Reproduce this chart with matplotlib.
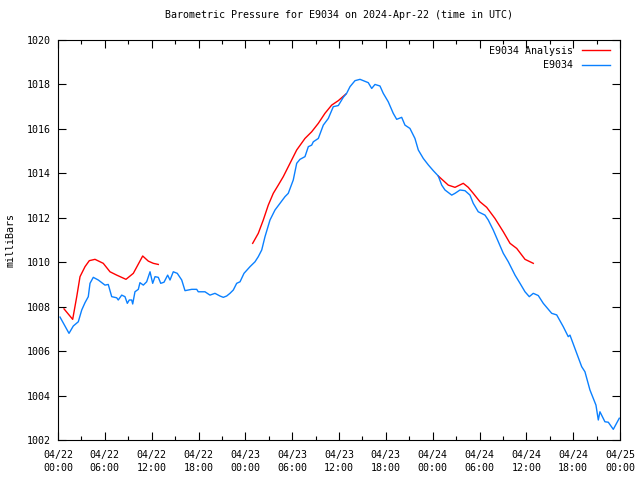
import numpy as np
import matplotlib
matplotlib.use('Agg')
from matplotlib import pyplot as plt

# hours since 2024-04-22 00:00 UTC
obs_hours = [0.26, 1.41, 1.96, 2.60, 3.04, 3.46, 3.88, 4.10, 4.52, 5.16, 6.02, 6.44, 6.88, 7.52, 7.72,
             8.16, 8.58, 8.88, 9.13, 9.44, 9.57, 9.86, 10.29, 10.50, 10.93, 11.36, 11.79, 12.13, 12.43,
             12.85, 13.16, 13.58, 14.05, 14.35, 14.77, 15.28, 15.85, 16.27, 16.69, 17.13, 17.77, 17.97,
             18.83, 19.47, 20.11, 20.75, 21.18, 21.61, 22.03, 22.46, 22.89, 23.32, 23.83, 24.60, 25.24,
             25.66, 26.10, 26.52, 27.16, 27.80, 28.44, 29.08, 29.50, 30.14, 30.58, 31.00, 31.64, 32.07,
             32.50, 32.71, 33.35, 33.99, 34.63, 35.27, 35.91, 36.55, 36.98, 37.41, 38.05, 38.69, 39.11,
             39.75, 40.19, 40.61, 41.25, 41.67, 42.31, 42.95, 43.39, 44.03, 44.45, 45.09, 45.73, 46.16,
             46.80, 47.44, 48.08, 48.72, 49.16, 49.58, 50.44, 50.86, 51.50, 52.14, 52.78, 53.20, 53.84,
             54.70, 55.12, 55.76, 56.41, 57.05, 57.69, 58.55, 59.19, 59.83, 60.38, 60.89, 61.53, 62.17,
             63.25, 63.89, 64.73, 65.37, 65.59, 66.23, 67.09, 67.51, 68.15, 68.92, 69.22, 69.43, 70.07,
             70.50, 71.14, 71.91]
obs_press = [1007.53, 1006.8, 1007.13, 1007.32, 1007.85, 1008.18, 1008.45, 1009.05, 1009.32, 1009.2,
             1008.97, 1009.0, 1008.45, 1008.4, 1008.3, 1008.52, 1008.45, 1008.15, 1008.3, 1008.3, 1008.12,
             1008.67, 1008.78, 1009.08, 1008.97, 1009.12, 1009.57, 1009.05, 1009.35, 1009.32, 1009.05,
             1009.1, 1009.42, 1009.2, 1009.57, 1009.5, 1009.2, 1008.72, 1008.75, 1008.78, 1008.78, 1008.67,
             1008.67, 1008.52, 1008.6, 1008.48, 1008.42, 1008.48, 1008.6, 1008.75, 1009.05, 1009.12, 1009.5,
             1009.8, 1010.02, 1010.25, 1010.55, 1011.15, 1011.9, 1012.35, 1012.65, 1012.95, 1013.1, 1013.7,
             1014.45, 1014.63, 1014.75, 1015.2, 1015.27, 1015.42, 1015.57, 1016.17, 1016.47, 1017.0,
             1017.05, 1017.42, 1017.6, 1017.9, 1018.17, 1018.23, 1018.17, 1018.08, 1017.82, 1018.0,
             1017.93, 1017.6, 1017.22, 1016.7, 1016.43, 1016.52, 1016.17, 1016.02, 1015.57, 1015.05,
             1014.67, 1014.38, 1014.12, 1013.88, 1013.47, 1013.25, 1013.02, 1013.1, 1013.25, 1013.22,
             1013.02, 1012.65, 1012.27, 1012.12, 1011.9, 1011.45, 1010.92, 1010.4, 1010.02, 1009.42,
             1009.05, 1008.67, 1008.45, 1008.6, 1008.5, 1008.15, 1007.7, 1007.63, 1007.1, 1006.65,
             1006.72, 1006.12, 1005.3, 1005.07, 1004.25, 1003.57, 1002.9, 1003.27, 1002.82, 1002.8,
             1002.48, 1002.98]

# analysis, NaN marks the gaps between runs
ana_hours = [0.77, 1.88, 2.40, 2.82, 3.46, 4.01, 4.74, 5.80, 6.66, 7.52, 8.71, 9.65, 10.85, 11.57, 12.21,
             12.85, 18.0,
             24.94, 25.66, 26.30, 26.94, 27.58, 28.22, 28.86, 29.72, 30.58, 31.64, 32.50, 33.35, 34.20,
             35.06, 35.91, 36.89, 42.0,
             48.72, 49.28, 50.00, 50.86, 51.92, 52.56, 53.20, 54.06, 54.92, 55.98, 57.05, 57.91, 58.77,
             59.83, 60.89]
ana_press = [1007.9, 1007.43, 1008.45, 1009.35, 1009.8, 1010.07, 1010.13, 1009.95, 1009.57, 1009.42,
             1009.23, 1009.5, 1010.28, 1010.05, 1009.95, 1009.9, np.nan,
             1010.85, 1011.3, 1011.9, 1012.57, 1013.1, 1013.47, 1013.85, 1014.45, 1015.05, 1015.57,
             1015.87, 1016.25, 1016.7, 1017.07, 1017.27, 1017.57, np.nan,
             1013.88, 1013.7, 1013.47, 1013.37, 1013.55, 1013.37, 1013.1, 1012.72, 1012.47, 1011.97,
             1011.37, 1010.85, 1010.62, 1010.13, 1009.95]

tick_hours = list(range(0, 73, 6))
tick_labels = ['04/22\n00:00', '04/22\n06:00', '04/22\n12:00', '04/22\n18:00',
               '04/23\n00:00', '04/23\n06:00', '04/23\n12:00', '04/23\n18:00',
               '04/24\n00:00', '04/24\n06:00', '04/24\n12:00', '04/24\n18:00',
               '04/25\n00:00']

plt.rcParams['font.family'] = 'DejaVu Sans Mono'
plt.rcParams['font.size'] = 7.2

fig = plt.figure(figsize=(6.4, 4.8), dpi=100)
ax = fig.add_axes([58/640, 40/480, 562/640, 400/480])

ax.plot(ana_hours, ana_press, color='#ff0000', lw=1, label='E9034 Analysis')
ax.plot(obs_hours, obs_press, color='#0a80ff', lw=1, label='E9034')

ax.set_xlim(0, 72)
ax.set_ylim(1002, 1020)
ax.set_xticks(tick_hours)
ax.set_xticklabels(tick_labels, linespacing=1.4)
ax.set_xticks(range(3, 72, 6), minor=True)
ax.set_yticks(range(1002, 1021, 2))
ax.tick_params(which='both', direction='in', top=True, right=True, width=0.8)
ax.tick_params(which='major', length=6)
ax.tick_params(axis='x', which='major', pad=7)
ax.tick_params(axis='y', which='major', pad=5)
ax.tick_params(which='minor', length=3)
for s in ax.spines.values():
    s.set_linewidth(0.8)

ax.set_ylabel('milliBars', labelpad=8)
ax.set_title('Barometric Pressure for E9034 on 2024-Apr-22 (time in UTC)', fontsize=7.2, pad=16)
ax.legend(loc='upper right', bbox_to_anchor=(0.991, 0.998), frameon=False, markerfirst=False,
          handlelength=2.8, borderaxespad=0.3, borderpad=0.2, labelspacing=0.45, handletextpad=0.9)

fig.savefig('out.png', dpi=100)
